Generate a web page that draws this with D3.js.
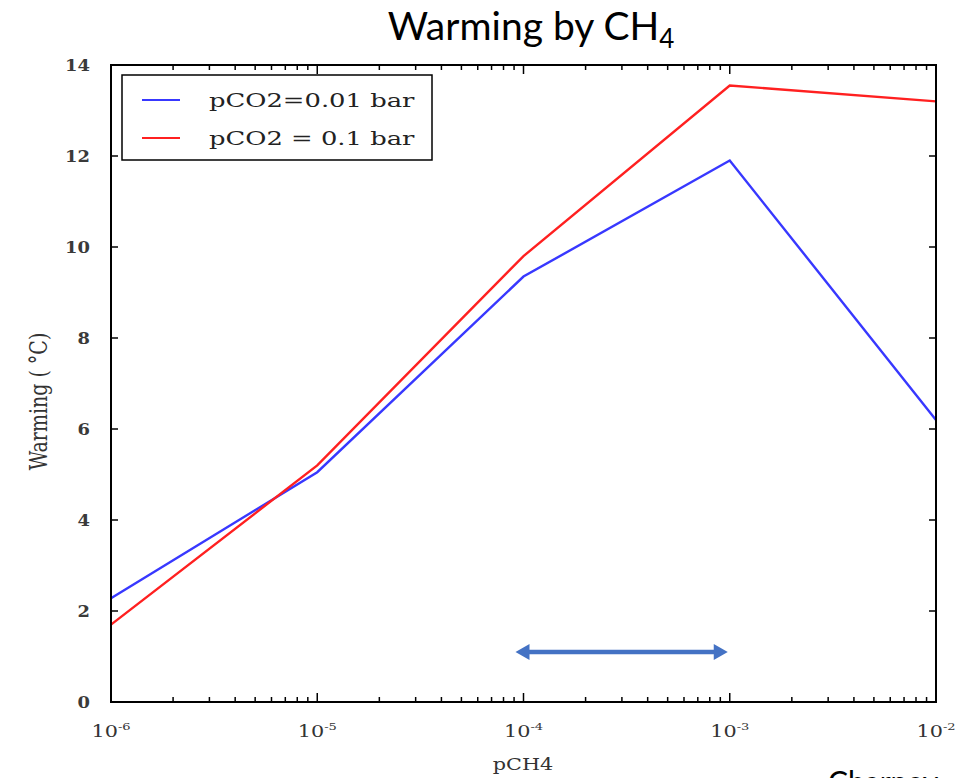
<!DOCTYPE html>
<html>
<head>
<meta charset="utf-8">
<script src="https://cdn.jsdelivr.net/npm/d3@7"></script>
<style>
  body { margin: 0; background: #fff; overflow: hidden; }
  svg { display: block; }
</style>
</head>
<body>
<div id="chart"></div>
<script>
// pCH4 values (bar)
const pch4 = [1e-6, 1e-5, 1e-4, 1e-3, 1e-2];
// warming for each pCO2 case
const warmLow = [2.28, 5.05, 9.35, 11.9, 6.2];
const warmHigh = [1.7, 5.2, 9.8, 13.55, 13.2];
const seriesNames = ["pCO2=0.01 bar", "pCO2 = 0.1 bar"];
const seriesColors = ["#3838ff", "#ff2020"];
const yTicks = [0, 2, 4, 6, 8, 10, 12, 14];
const xDecades = [-6, -5, -4, -3, -2];
const arrowRange = [1e-4, 1e-3];

const width = 971, height = 778;
const margin = { top: 65, right: 35, bottom: 76, left: 111 };

const svg = d3.select("#chart").append("svg")
  .attr("width", width)
  .attr("height", height);

const x = d3.scaleLog().domain([1e-6, 1e-2]).range([margin.left, width - margin.right]);
const y = d3.scaleLinear().domain([0, 14]).range([height - margin.bottom, margin.top]);

const serif = "'DejaVu Serif', 'Liberation Serif', serif";
const stretch = 1.3; // the original plot image is stretched sideways

// Title
const title = svg.append("text")
  .attr("x", 531).attr("y", 40)
  .attr("text-anchor", "middle")
  .style("font-family", "Lato, 'Open Sans', sans-serif")
  .style("font-size", "39px")
  .attr("fill", "#000");
title.append("tspan").text("Warming by CH");
title.append("tspan").attr("dy", 8).style("font-size", "26px").text("4");

// minor ticks
const minor = [];
xDecades.slice(0, -1).forEach(e => {
  for (let k = 2; k <= 9; k++) minor.push(k * Math.pow(10, e));
});
const majors = xDecades.map(e => Math.pow(10, e));

const tickG = svg.append("g").attr("stroke", "#000").attr("stroke-width", 1.5);
const yB = y(0), yT = y(14);
minor.forEach(v => {
  tickG.append("line").attr("x1", x(v)).attr("x2", x(v)).attr("y1", yB).attr("y2", yB - 5);
  tickG.append("line").attr("x1", x(v)).attr("x2", x(v)).attr("y1", yT).attr("y2", yT + 5);
});
majors.forEach(v => {
  tickG.append("line").attr("x1", x(v)).attr("x2", x(v)).attr("y1", yB).attr("y2", yB - 9);
  tickG.append("line").attr("x1", x(v)).attr("x2", x(v)).attr("y1", yT).attr("y2", yT + 9);
});
yTicks.forEach(v => {
  tickG.append("line").attr("x1", x(1e-6)).attr("x2", x(1e-6) + 7).attr("y1", y(v)).attr("y2", y(v));
  tickG.append("line").attr("x1", x(1e-2)).attr("x2", x(1e-2) - 7).attr("y1", y(v)).attr("y2", y(v));
});

// y tick labels
svg.append("g").selectAll("g").data(yTicks).join("g")
  .attr("transform", d => `translate(${x(1e-6) - 21},${y(d) + 6}) scale(1.12,1)`)
  .append("text")
  .attr("text-anchor", "end")
  .style("font-family", serif).style("font-size", "16px").style("font-weight", "bold")
  .attr("fill", "#3a3a3a")
  .text(d => d);

// x tick labels
const xl = svg.append("g").selectAll("g").data(xDecades).join("g")
  .attr("transform", d => `translate(${x(Math.pow(10, d))},737) scale(${stretch},1)`)
  .append("text")
  .attr("text-anchor", "middle")
  .style("font-family", serif).style("font-size", "16px")
  .attr("fill", "#333");
xl.append("tspan").text("10");
xl.append("tspan").attr("dy", -7).style("font-size", "10px").text(d => d);

// axis titles
svg.append("g")
  .attr("transform", `translate(523,770) scale(${stretch},1)`)
  .append("text")
  .attr("text-anchor", "middle")
  .style("font-family", serif).style("font-size", "16px")
  .attr("fill", "#333")
  .text("pCH4");
svg.append("g")
  .attr("transform", `translate(47,${(y(0) + y(14)) / 2 + 18}) scale(${stretch},1) rotate(-90)`)
  .append("text")
  .attr("text-anchor", "middle")
  .style("font-family", serif).style("font-size", "19px")
  .attr("fill", "#333")
  .text("Warming ( \u00B0C)");

// lines
const line = d3.line().x((d, i) => x(pch4[i])).y(d => y(d));
[warmLow, warmHigh].forEach((s, i) => {
  svg.append("path").datum(s)
    .attr("fill", "none")
    .attr("stroke", seriesColors[i])
    .attr("stroke-width", 2.4)
    .attr("d", line);
});

// frame
svg.append("rect")
  .attr("x", x(1e-6)).attr("y", y(14))
  .attr("width", x(1e-2) - x(1e-6)).attr("height", y(0) - y(14))
  .attr("fill", "none").attr("stroke", "#000").attr("stroke-width", 2);

// legend
const lg = svg.append("g").attr("transform", "translate(122,75)");
lg.append("rect").attr("width", 310).attr("height", 85)
  .attr("fill", "#fff").attr("stroke", "#000").attr("stroke-width", 1.5);
seriesNames.forEach((n, i) => {
  const yy = 25 + i * 38;
  lg.append("line").attr("x1", 20).attr("x2", 58).attr("y1", yy).attr("y2", yy)
    .attr("stroke", seriesColors[i]).attr("stroke-width", 2);
  lg.append("g").attr("transform", `translate(87,${yy + 7}) scale(1.36,1)`)
    .append("text")
    .style("font-family", serif).style("font-size", "19px")
    .attr("fill", "#222")
    .text(n);
});

// double-headed arrow
const ay = 652, ah = 14, aw = 8;
const ax1 = x(arrowRange[0]) - 8, ax2 = x(arrowRange[1]) - 2;
const arrowC = "#4472C4";
svg.append("line")
  .attr("x1", ax1 + ah - 2).attr("x2", ax2 - ah + 2).attr("y1", ay).attr("y2", ay)
  .attr("stroke", arrowC).attr("stroke-width", 4.5);
svg.append("path")
  .attr("d", `M${ax1},${ay} L${ax1 + ah},${ay - aw} L${ax1 + ah},${ay + aw} Z`)
  .attr("fill", arrowC);
svg.append("path")
  .attr("d", `M${ax2},${ay} L${ax2 - ah},${ay - aw} L${ax2 - ah},${ay + aw} Z`)
  .attr("fill", arrowC);

// caption cut off at the bottom-right edge (as in the source slide)
svg.append("text")
  .attr("x", 828).attr("y", 793)
  .style("font-family", "Lato, 'Open Sans', sans-serif")
  .style("font-size", "30px")
  .attr("fill", "#000")
  .text("Charney");
</script>
</body>
</html>
